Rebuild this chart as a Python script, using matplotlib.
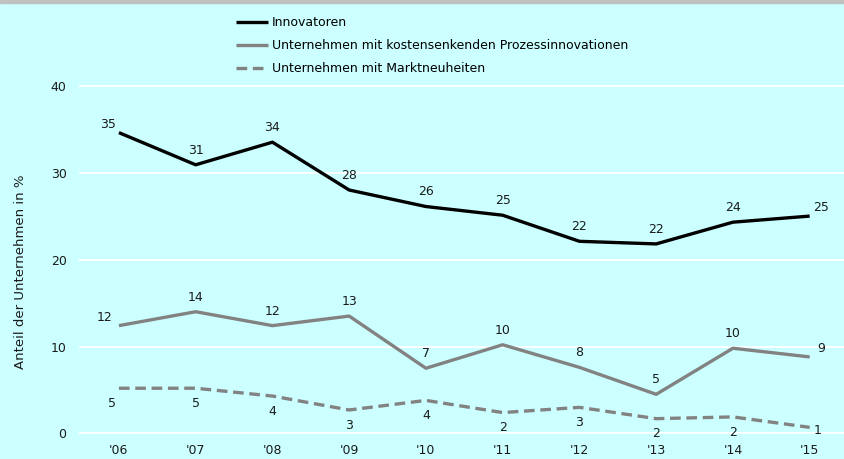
import matplotlib.pyplot as plt
from matplotlib.patches import Rectangle

# Daten (Anteil der Unternehmen in %)
jahre = ["'06", "'07", "'08", "'09", "'10", "'11", "'12", "'13", "'14", "'15"]
innovatoren = [34.6, 30.9, 33.5, 28.0, 26.1, 25.1, 22.1, 21.8, 24.3, 25.0]
prozess = [12.4, 14.0, 12.4, 13.5, 7.5, 10.2, 7.6, 4.5, 9.8, 8.8]
markt = [5.2, 5.2, 4.3, 2.7, 3.8, 2.4, 3.0, 1.7, 1.9, 0.7]
labels_innov = [35, 31, 34, 28, 26, 25, 22, 22, 24, 25]
labels_prozess = [12, 14, 12, 13, 7, 10, 8, 5, 10, 9]
labels_markt = [5, 5, 4, 3, 4, 2, 3, 2, 2, 1]

bg = '#ccffff'
grau = '#828282'

fig = plt.figure(figsize=(8.45, 4.59), dpi=100, facecolor=bg)
ax = fig.add_axes([0.0935, 0.0519, 0.9065, 0.7652])
ax.set_facecolor(bg)

# grauer Balken oben
fig.patches.append(Rectangle((0, 0.993), 1, 0.007, transform=fig.transFigure,
                             color='#c0c0c0', zorder=0))

x = list(range(len(jahre)))
ax.plot(x, innovatoren, color='black', lw=2.4, label='Innovatoren', solid_capstyle='butt')
ax.plot(x, prozess, color=grau, lw=2.4,
        label='Unternehmen mit kostensenkenden Prozessinnovationen', solid_capstyle='butt')
ax.plot(x, markt, color=grau, lw=2.4, dashes=(3.2, 1.7),
        label='Unternehmen mit Marktneuheiten')

n = len(x)
for i in x:
    dx = -8 if i == 0 else (8 if i == n - 1 else 0)
    ax.annotate(str(labels_innov[i]), (i, innovatoren[i]), xytext=(dx, 10.5 if dx == 0 else 6),
                textcoords='offset points', ha='center', va='center', fontsize=9, color='#1a1a1a')
    dx2 = -10 if i == 0 else (8 if i == n - 1 else 0)
    ax.annotate(str(labels_prozess[i]), (i, prozess[i]), xytext=(dx2, 10.5 if dx2 == 0 else 6),
                textcoords='offset points', ha='center', va='center', fontsize=9, color='#1a1a1a')
    dx3 = -5 if i == 0 else (6 if i == n - 1 else 0)
    dy3 = -11 if i != n - 1 else -2
    ax.annotate(str(labels_markt[i]), (i, markt[i]), xytext=(dx3, dy3),
                textcoords='offset points', ha='center', va='center', fontsize=9, color='#1a1a1a')

ax.set_xlim(-0.52, 9.46)
ax.set_ylim(-0.2, 40.2)
ax.set_yticks([0, 10, 20, 30, 40])
ax.set_xticks(x)
ax.set_xticklabels(jahre)
ax.grid(axis='y', color='white', lw=1.3)
ax.set_axisbelow(True)
for s in ax.spines.values():
    s.set_visible(False)
ax.tick_params(length=0, labelsize=9, colors='#1a1a1a')
ax.tick_params(axis='y', pad=9)
ax.tick_params(axis='x', pad=6)

fig.text(0.024, 0.408, 'Anteil der Unternehmen in %', rotation=90, ha='center', va='center',
         fontsize=9.5, color='#1a1a1a')

fig.legend(loc='upper left', bbox_to_anchor=(0.279, 0.965), frameon=False, fontsize=9,
           handlelength=2.6, handletextpad=0.3, labelspacing=0.8, borderpad=0, borderaxespad=0)

fig.savefig('out.png', dpi=100, facecolor=bg)
